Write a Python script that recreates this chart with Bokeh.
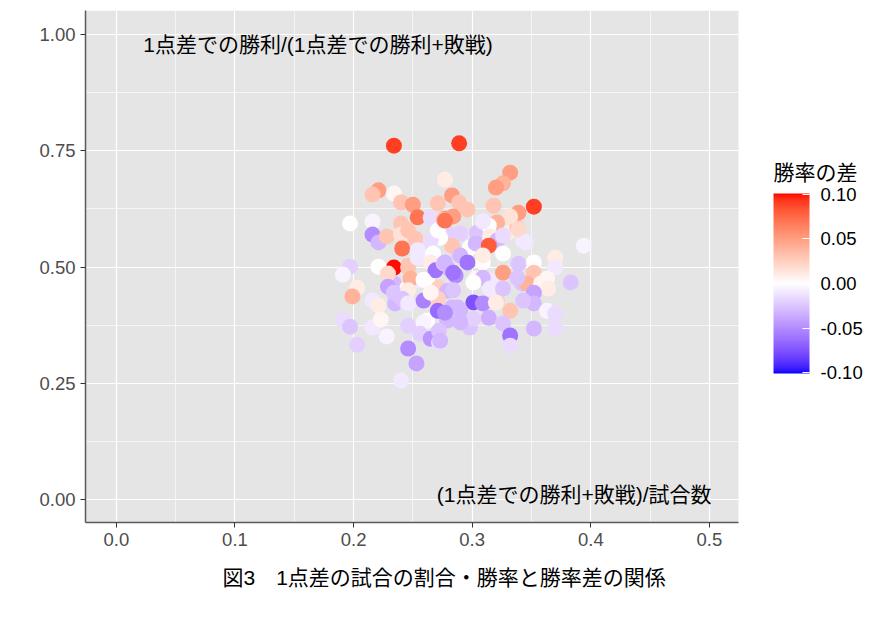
import numpy as np
from bokeh.plotting import figure
from bokeh.models import (ColumnDataSource, LinearColorMapper, ColorBar, FixedTicker,
                          Range1d, Title, PrintfTickFormatter, Label, BoxAnnotation)
from bokeh.core.properties import value
from bokeh.embed import file_html
from bokeh.resources import INLINE

# ---- data (x: share of 1-goal games, y: win share in 1-goal games, diff: win-rate difference)
share_1pt = [0.246, 0.265, 0.279, 0.234, 0.245, 0.254, 0.262, 0.272, 0.279, 0.235,
             0.245, 0.283, 0.262, 0.279, 0.288, 0.298, 0.309, 0.286, 0.303, 0.315,
             0.342, 0.321, 0.288, 0.298, 0.290, 0.317, 0.304, 0.330, 0.338, 0.343,
             0.234, 0.289, 0.352, 0.234, 0.332, 0.326, 0.320, 0.221, 0.216, 0.234,
             0.240, 0.250, 0.271, 0.277, 0.283, 0.289, 0.296, 0.277, 0.284, 0.318,
             0.339, 0.332, 0.339, 0.321, 0.314, 0.309, 0.290, 0.279, 0.303, 0.315,
             0.321, 0.326, 0.314, 0.345, 0.394, 0.370, 0.326, 0.283, 0.273, 0.254,
             0.265, 0.197, 0.216, 0.216, 0.221, 0.228, 0.240, 0.240, 0.246, 0.252,
             0.265, 0.271, 0.276, 0.241, 0.254, 0.267, 0.197, 0.191, 0.221, 0.229,
             0.246, 0.254, 0.265, 0.269, 0.276, 0.248, 0.259, 0.229, 0.234, 0.246,
             0.203, 0.199, 0.216, 0.221, 0.241, 0.246, 0.259, 0.271, 0.271, 0.265,
             0.191, 0.197, 0.216, 0.223, 0.228, 0.246, 0.203, 0.246, 0.253, 0.240,
             0.259, 0.256, 0.265, 0.272, 0.272, 0.277, 0.290, 0.284, 0.296, 0.309,
             0.339, 0.352, 0.370, 0.326, 0.352, 0.363, 0.346, 0.338, 0.358, 0.364,
             0.383, 0.309, 0.301, 0.315, 0.326, 0.352, 0.352, 0.343, 0.284, 0.301,
             0.309, 0.320, 0.332, 0.290, 0.277, 0.301, 0.314, 0.363, 0.370, 0.326,
             0.352, 0.370, 0.332, 0.332, 0.290, 0.273, 0.277]
win_share = [0.503, 0.514, 0.499, 0.465, 0.454, 0.471, 0.471, 0.456, 0.449, 0.422,
             0.422, 0.413, 0.385, 0.385, 0.531, 0.542, 0.510, 0.482, 0.475, 0.471,
             0.465, 0.428, 0.413, 0.370, 0.637, 0.572, 0.574, 0.574, 0.585, 0.557,
             0.761, 0.766, 0.630, 0.499, 0.703, 0.680, 0.671, 0.665, 0.656, 0.658,
             0.639, 0.634, 0.637, 0.688, 0.654, 0.639, 0.624, 0.604, 0.609, 0.632,
             0.617, 0.609, 0.581, 0.596, 0.589, 0.598, 0.572, 0.574, 0.551, 0.566,
             0.557, 0.568, 0.546, 0.553, 0.546, 0.520, 0.529, 0.546, 0.563, 0.607,
             0.606, 0.594, 0.598, 0.570, 0.553, 0.566, 0.594, 0.570, 0.579, 0.561,
             0.557, 0.579, 0.602, 0.540, 0.536, 0.529, 0.501, 0.484, 0.501, 0.486,
             0.499, 0.520, 0.510, 0.493, 0.508, 0.475, 0.473, 0.458, 0.445, 0.450,
             0.456, 0.437, 0.428, 0.417, 0.432, 0.422, 0.428, 0.432, 0.406, 0.445,
             0.387, 0.372, 0.370, 0.387, 0.351, 0.374, 0.333, 0.325, 0.293, 0.256,
             0.381, 0.357, 0.346, 0.363, 0.338, 0.510, 0.525, 0.488, 0.510, 0.525,
             0.507, 0.510, 0.499, 0.488, 0.488, 0.475, 0.465, 0.477, 0.465, 0.454,
             0.467, 0.477, 0.467, 0.454, 0.454, 0.445, 0.422, 0.428, 0.450, 0.424,
             0.422, 0.424, 0.406, 0.406, 0.402, 0.389, 0.391, 0.406, 0.400, 0.379,
             0.368, 0.368, 0.353, 0.331, 0.381, 0.342, 0.600]
rate_diff = [0.03, 0.0, -0.03, -0.03, 0.005, -0.01, 0.0, 0.025, -0.03, -0.03,
             -0.015, -0.03, 0.0, -0.03, -0.02, 0.0, 0.0, -0.05, 0.005, -0.01,
             -0.025, 0.025, -0.03, -0.025, 0.01, 0.015, -0.025, 0.01, 0.03, -0.01,
             0.09, 0.09, 0.09, 0.10, 0.05, 0.04, 0.05, 0.05, 0.03, 0.005,
             0.03, 0.05, 0.03, 0.01, 0.05, 0.03, 0.03, 0.06, 0.05, 0.03,
             0.05, 0.015, 0.02, 0.04, 0.0, -0.01, -0.02, -0.02, -0.03, 0.01,
             -0.03, -0.015, 0.08, -0.01, -0.005, 0.01, 0.0, 0.03, 0.0, 0.07,
             -0.015, 0.0, -0.005, -0.05, -0.03, 0.03, 0.03, 0.015, 0.03, 0.03,
             -0.015, 0.0, 0.03, 0.07, -0.01, 0.0, -0.02, -0.005, 0.0, 0.02,
             0.03, -0.01, 0.01, -0.06, -0.025, 0.04, 0.0, -0.04, -0.025, 0.01,
             0.01, 0.04, -0.01, 0.01, -0.025, -0.01, -0.055, 0.025, -0.065, 0.005,
             -0.015, -0.025, -0.01, 0.005, -0.005, -0.02, -0.02, -0.05, -0.04, -0.01,
             -0.005, -0.02, -0.045, -0.025, -0.015, -0.03, -0.03, -0.06, -0.06, 0.01,
             -0.025, 0.0, -0.01, 0.05, 0.03, 0.005, 0.04, -0.025, 0.005, 0.01,
             -0.025, -0.03, 0.0, -0.01, -0.025, -0.04, -0.03, -0.025, -0.025, -0.075,
             -0.05, 0.01, 0.03, -0.03, -0.05, -0.02, -0.035, -0.005, -0.015, -0.025,
             -0.03, -0.015, -0.06, -0.015, -0.03, -0.03, 0.07]

x_ticks = [0.0, 0.1, 0.2, 0.3, 0.4, 0.5]
x_tick_labels = ["0.0", "0.1", "0.2", "0.3", "0.4", "0.5"]
y_ticks = [0.0, 0.25, 0.5, 0.75, 1.0]
y_tick_labels = ["0.00", "0.25", "0.50", "0.75", "1.00"]
legend_ticks = [-0.10, -0.05, 0.0, 0.05, 0.10]

title_y = "1点差での勝利/(1点差での勝利+敗戦)"
title_x = "(1点差での勝利+敗戦)/試合数"
caption = "図3　1点差の試合の割合・勝率と勝率差の関係"
legend_title = "勝率の差"

FONT = "Liberation Sans, Noto Sans CJK JP, sans-serif"

# panel limits (data units)
X_LO, X_HI = -0.026, 0.5245
Y_LO, Y_HI = -0.049, 1.0516

# ---- Lab-space diverging palette (blue - white - red)
def _lin(c):
    c = c / 255.0
    return c / 12.92 if c <= 0.04045 else ((c + 0.055) / 1.055) ** 2.4

def _srgb(c):
    v = 12.92 * c if c <= 0.0031308 else 1.055 * c ** (1 / 2.4) - 0.055
    return int(round(min(max(v, 0), 1) * 255))

_WP = (0.95047, 1.0, 1.08883)

def to_lab(rgb):
    r, g, b = [_lin(c) for c in rgb]
    X = 0.4124 * r + 0.3576 * g + 0.1805 * b
    Y = 0.2126 * r + 0.7152 * g + 0.0722 * b
    Z = 0.0193 * r + 0.1192 * g + 0.9505 * b
    def f(t):
        return t ** (1 / 3) if t > 0.008856 else 7.787 * t + 16 / 116
    fx, fy, fz = f(X / _WP[0]), f(Y / _WP[1]), f(Z / _WP[2])
    return (116 * fy - 16, 500 * (fx - fy), 200 * (fy - fz))

def from_lab(lab):
    L, a, bb = lab
    fy = (L + 16) / 116
    fx = fy + a / 500
    fz = fy - bb / 200
    def fi(t):
        return t ** 3 if t ** 3 > 0.008856 else (t - 16 / 116) / 7.787
    X, Y, Z = fi(fx) * _WP[0], fi(fy) * _WP[1], fi(fz) * _WP[2]
    r = 3.2406 * X - 1.5372 * Y - 0.4986 * Z
    g = -0.9689 * X + 1.8758 * Y + 0.0415 * Z
    b = 0.0557 * X - 0.2040 * Y + 1.0570 * Z
    return "#%02x%02x%02x" % (_srgb(r), _srgb(g), _srgb(b))

lab_w = to_lab((255, 255, 255))
lab_r = to_lab((255, 0, 0))
lab_b = to_lab((0, 0, 255))
palette = []
N = 256
for i in range(N):
    t = i / (N - 1) * 2 - 1
    end = lab_b if t < 0 else lab_r
    s = abs(t)
    palette.append(from_lab(tuple(lab_w[k] + (end[k] - lab_w[k]) * s for k in range(3))))

mapper = LinearColorMapper(palette=palette, low=-0.101, high=0.101)

src = ColumnDataSource(dict(x=share_1pt, y=win_share, v=rate_diff))

# frame spans to the right edge so the legend lives inside it; the grey panel is a box
px_per_unit = 653.0 / (X_HI - X_LO)
x_end = X_LO + 801.0 / px_per_unit
p = figure(width=886, height=617, output_backend="svg", toolbar_location=None,
           x_range=Range1d(X_LO, x_end), y_range=Range1d(Y_LO, Y_HI),
           min_border_left=85, min_border_top=10, min_border_bottom=95,
           min_border_right=0)
p.background_fill_color = "white"
p.border_fill_color = "white"
p.outline_line_color = None

panel = BoxAnnotation(left=X_LO, right=X_HI, fill_color="#E5E5E5", fill_alpha=1,
                      line_color=None, level="image")
p.add_layout(panel)

p.xaxis.ticker = FixedTicker(ticks=x_ticks, minor_ticks=[0.05, 0.15, 0.25, 0.35, 0.45])
p.yaxis.ticker = FixedTicker(ticks=y_ticks, minor_ticks=[0.125, 0.375, 0.625, 0.875])
p.xaxis.major_label_overrides = {t: l for t, l in zip(x_ticks, x_tick_labels)}
p.yaxis.major_label_overrides = {t: l for t, l in zip(y_ticks, y_tick_labels)}
p.xaxis.bounds = (X_LO, X_HI)

for ax in (p.xaxis, p.yaxis):
    ax.axis_line_color = "#5a5a5a"
    ax.axis_line_width = 1.5
    ax.major_tick_line_color = "#333333"
    ax.major_tick_in = 0
    ax.major_tick_out = 5
    ax.minor_tick_line_color = None
    ax.major_label_text_font = FONT
    ax.major_label_text_font_size = "18.5px"
    ax.major_label_text_color = "#4D4D4D"
    ax.major_label_standoff = 5

p.xgrid.bounds = (X_LO, X_HI)
p.ygrid.cross_bounds = (X_LO, X_HI)
p.xgrid.grid_line_color = "white"
p.ygrid.grid_line_color = "white"
p.xgrid.grid_line_width = 1.2
p.ygrid.grid_line_width = 1.2
p.xgrid.minor_grid_line_color = "white"
p.ygrid.minor_grid_line_color = "white"
p.xgrid.minor_grid_line_width = 0.6
p.ygrid.minor_grid_line_width = 0.6

p.scatter("x", "y", source=src, size=16,
          fill_color={"field": "v", "transform": mapper}, line_color=None)

p.text(x=[0.170], y=[0.979], text=[title_y], text_font=value(FONT),
       text_font_size="21px", text_color="black", text_align="center",
       text_baseline="middle")
p.text(x=[0.386], y=[0.011], text=[title_x], text_font=value(FONT),
       text_font_size="21px", text_color="black", text_align="center",
       text_baseline="middle")

cb = ColorBar(color_mapper=mapper, ticker=FixedTicker(ticks=legend_ticks),
              formatter=PrintfTickFormatter(format="%.2f"),
              width=36, height=180, location=(688, 149), padding=0, margin=0,
              major_label_text_font=FONT, major_label_text_font_size="18.5px",
              major_label_text_color="black", label_standoff=11,
              major_tick_line_color="white", major_tick_in=7, major_tick_out=0,
              bar_line_color=None, border_line_color=None,
              background_fill_alpha=0)
p.add_layout(cb, "center")

leg_title = Label(x=X_LO + 688.0 / px_per_unit, y=0.703, text=legend_title,
                  text_font=FONT, text_font_size="21px", text_color="black",
                  text_align="left", text_baseline="middle")
p.add_layout(leg_title)

cap = Title(text=caption, align="left", offset=137, text_font=FONT,
            text_font_size="21px", text_font_style="normal", text_color="black",
            standoff=30)
p.add_layout(cap, "below")

open("out.html", "w").write(file_html(p, INLINE))
